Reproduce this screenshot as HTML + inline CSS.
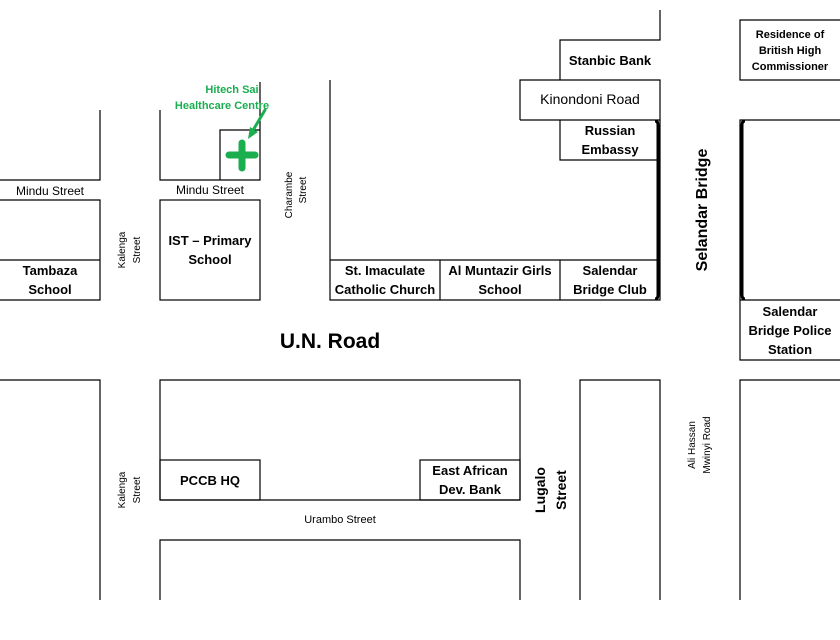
<!DOCTYPE html>
<html><head><meta charset="utf-8"><style>
html,body{margin:0;padding:0;background:#fff;}
svg{display:block;}
text{font-family:"Liberation Sans",sans-serif;fill:#000;}
.b{font-weight:bold;font-size:13px;}
.n{font-size:12px;}
.s{font-size:10px;}
</style></head><body>
<svg width="840" height="640" viewBox="0 0 840 640">
<g stroke="#000" stroke-width="1.2" fill="none">
<polyline points="100,110 100,180 0,180"/>
<polyline points="0,200 100,200 100,300 0,300"/>
<line x1="0" y1="260" x2="100" y2="260"/>
<polyline points="160,110 160,180 260,180 260,82"/>
<polyline points="220,180 220,130 260,130"/>
<rect x="160" y="200" width="100" height="100"/>
<polyline points="330,80 330,300 660,300 660,120"/>
<line x1="330" y1="260" x2="660" y2="260"/>
<line x1="440" y1="260" x2="440" y2="300"/>
<line x1="560" y1="260" x2="560" y2="300"/>
<polyline points="560,120 560,160 660,160"/>
<polyline points="520,120 520,80 660,80 660,120 520,120"/>
<polyline points="560,80 560,40 660,40 660,10"/>
<polyline points="840,20 740,20 740,80 840,80"/>
<polyline points="840,120 740,120 740,300"/>
<polyline points="840,300 740,300 740,360 840,360"/>
<polyline points="0,380 100,380 100,600"/>
<polyline points="160,500 160,380 520,380 520,500 160,500"/>
<rect x="160" y="460" width="100" height="40"/>
<rect x="420" y="460" width="100" height="40"/>
<polyline points="160,600 160,540 520,540 520,600"/>
<polyline points="580,600 580,380 660,380 660,600"/>
<polyline points="740,600 740,380 840,380"/>
</g>
<g stroke="#000" stroke-width="3" fill="none">
<path d="M655,121 Q658,121 658,125 L658,295 Q658,299 655,299"/>
<path d="M745,121 Q742,121 742,125 L742,295 Q742,299 745,299"/>
</g>
<g stroke="#1aae4f" stroke-linecap="round">
<line x1="242" y1="143" x2="242" y2="168" stroke-width="7"/>
<line x1="229" y1="155" x2="255" y2="155" stroke-width="7"/>
<line x1="265" y1="110" x2="252" y2="132" stroke-width="3"/>
</g>
<polygon points="248,139 250,127 258,132" fill="#1aae4f"/>
<text x="232" y="93" font-size="11" font-weight="bold" style="fill:#1aae4f" text-anchor="middle">Hitech Sai</text>
<text x="222" y="109" font-size="11" font-weight="bold" style="fill:#1aae4f" text-anchor="middle">Healthcare Centre</text>

<text class="n" x="50" y="195" text-anchor="middle">Mindu Street</text>
<text class="n" x="210" y="194" text-anchor="middle">Mindu Street</text>
<text class="b" x="50" y="275" text-anchor="middle">Tambaza</text>
<text class="b" x="50" y="294" text-anchor="middle">School</text>
<text class="b" x="210" y="245" text-anchor="middle">IST – Primary</text>
<text class="b" x="210" y="264" text-anchor="middle">School</text>
<text class="s" transform="translate(292,195) rotate(-90)" text-anchor="middle">Charambe</text>
<text class="s" transform="translate(306,190) rotate(-90)" text-anchor="middle">Street</text>
<text class="s" transform="translate(125,250) rotate(-90)" text-anchor="middle">Kalenga</text>
<text class="s" transform="translate(140,250) rotate(-90)" text-anchor="middle">Street</text>
<text class="s" transform="translate(125,490) rotate(-90)" text-anchor="middle">Kalenga</text>
<text class="s" transform="translate(140,490) rotate(-90)" text-anchor="middle">Street</text>
<text class="b" x="385" y="275" text-anchor="middle">St. Imaculate</text>
<text class="b" x="385" y="294" text-anchor="middle">Catholic Church</text>
<text class="b" x="500" y="275" text-anchor="middle">Al Muntazir Girls</text>
<text class="b" x="500" y="294" text-anchor="middle">School</text>
<text class="b" x="610" y="275" text-anchor="middle">Salendar</text>
<text class="b" x="610" y="294" text-anchor="middle">Bridge Club</text>
<text class="b" x="610" y="135" text-anchor="middle">Russian</text>
<text class="b" x="610" y="154" text-anchor="middle">Embassy</text>
<text class="b" x="610" y="65" text-anchor="middle">Stanbic Bank</text>
<text x="590" y="104" text-anchor="middle" font-size="14">Kinondoni Road</text>
<text x="790" y="38" text-anchor="middle" font-size="11" font-weight="bold">Residence of</text>
<text x="790" y="54" text-anchor="middle" font-size="11" font-weight="bold">British High</text>
<text x="790" y="70" text-anchor="middle" font-size="11" font-weight="bold">Commissioner</text>
<text transform="translate(707,210) rotate(-90)" text-anchor="middle" font-size="16" font-weight="bold">Selandar Bridge</text>
<text class="b" x="790" y="316" text-anchor="middle">Salendar</text>
<text class="b" x="790" y="335" text-anchor="middle">Bridge Police</text>
<text class="b" x="790" y="354" text-anchor="middle">Station</text>
<text x="330" y="348" text-anchor="middle" font-size="21" font-weight="bold">U.N. Road</text>
<text class="b" x="210" y="485" text-anchor="middle">PCCB HQ</text>
<text class="b" x="470" y="475" text-anchor="middle">East African</text>
<text class="b" x="470" y="494" text-anchor="middle">Dev. Bank</text>
<text x="340" y="523" text-anchor="middle" font-size="11">Urambo Street</text>
<text transform="translate(545,490) rotate(-90)" text-anchor="middle" font-size="14" font-weight="bold">Lugalo</text>
<text transform="translate(566,490) rotate(-90)" text-anchor="middle" font-size="14" font-weight="bold">Street</text>
<text class="s" transform="translate(695,445) rotate(-90)" text-anchor="middle">Ali Hassan</text>
<text class="s" transform="translate(710,445) rotate(-90)" text-anchor="middle">Mwinyi Road</text>
</svg>
</body></html>
